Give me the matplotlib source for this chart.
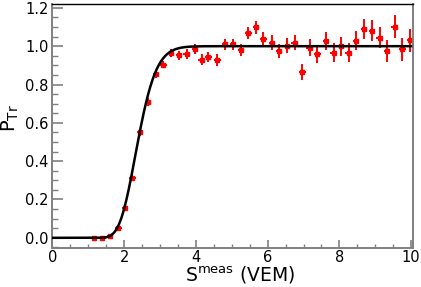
import math
import numpy as np
import matplotlib
matplotlib.use('Agg')
import matplotlib.pyplot as plt
from matplotlib.ticker import MultipleLocator

# measured trigger probability
s_meas = [1.16, 1.39, 1.60, 1.84, 2.02, 2.23, 2.44, 2.67, 2.89, 3.09,
          3.30, 3.53, 3.74, 3.97, 4.16, 4.35, 4.60, 4.81, 5.03, 5.25,
          5.46, 5.68, 5.88, 6.12, 6.32, 6.53, 6.75, 6.97, 7.17, 7.39,
          7.62, 7.84, 8.04, 8.26, 8.46, 8.69, 8.91, 9.12, 9.33, 9.54,
          9.76, 9.98]
p_tr = [0.0, 0.0, 0.008, 0.05, 0.156, 0.314, 0.55, 0.709, 0.854, 0.904,
        0.965, 0.953, 0.958, 0.983, 0.93, 0.944, 0.927, 1.010, 1.009, 0.979,
        1.069, 1.098, 1.037, 1.019, 0.975, 1.002, 1.019, 0.866, 0.993, 0.957,
        1.028, 0.967, 1.0, 0.967, 1.028, 1.089, 1.080, 1.045, 0.975, 1.101,
        0.984, 1.031]
p_err = [0.003, 0.004, 0.006, 0.01, 0.012, 0.015, 0.018, 0.02, 0.02, 0.02,
         0.022, 0.024, 0.025, 0.026, 0.027, 0.028, 0.03, 0.03, 0.03, 0.032,
         0.033, 0.035, 0.036, 0.037, 0.038, 0.04, 0.04, 0.042, 0.044, 0.045,
         0.046, 0.048, 0.05, 0.05, 0.05, 0.052, 0.054, 0.056, 0.058, 0.06,
         0.06, 0.06]
s_halfwidth = 0.09

# fit: log-normal cdf
fit_mu = 2.38
fit_sigma = 0.17

def fit_func(s):
    out = []
    for v in s:
        if v <= 0:
            out.append(0.0)
        else:
            out.append(0.5 * (1 + math.erf(math.log(v / fit_mu) / (math.sqrt(2) * fit_sigma))))
    return np.array(out)

fig = plt.figure(figsize=(4.21, 2.87), dpi=100)
ax = fig.add_axes([0.1247, 0.136, 0.856, 0.85])

xs = np.linspace(0, 10, 500)
ax.plot(xs, fit_func(xs), color='black', lw=1.8, zorder=3)

ax.errorbar(s_meas, p_tr, yerr=p_err, xerr=s_halfwidth, fmt='s', color='red',
            ms=2.6, elinewidth=1.4, capsize=0, zorder=2)

ax.set_xlim(0, 10.05)
ax.set_ylim(-0.053, 1.22)

ax.xaxis.set_major_locator(MultipleLocator(2))
ax.xaxis.set_minor_locator(MultipleLocator(0.5))
ax.yaxis.set_major_locator(MultipleLocator(0.2))
ax.yaxis.set_minor_locator(MultipleLocator(0.05))

grey = '#808080'
for side in ['left', 'bottom', 'right']:
    ax.spines[side].set_color(grey)
    ax.spines[side].set_linewidth(1.4)
ax.spines['top'].set_color('black')
ax.spines['top'].set_linewidth(1.0)

ax.tick_params(axis='y', which='major', direction='in', length=8, width=1.2,
               color=grey, labelsize=10.5, pad=3)
ax.tick_params(axis='y', which='minor', direction='in', length=4, width=1.0, color=grey)
ax.tick_params(axis='x', which='major', direction='in', length=5.5, width=1.2,
               color=grey, labelsize=10.5, pad=1.5)
ax.tick_params(axis='x', which='minor', direction='in', length=3, width=1.0, color=grey)
ax.yaxis.set_major_formatter(matplotlib.ticker.FormatStrFormatter('%.1f'))

ax.set_xlabel(r'S$^{\mathregular{meas}}$ (VEM)', fontsize=13.5, labelpad=0)
ax.xaxis.set_label_coords(0.52, -0.068)
ax.xaxis.label.set_verticalalignment('top')
ax.text(-0.118, 0.59, r'P$_{\mathregular{Tr}}$', transform=ax.transAxes,
        rotation=90, fontsize=14, ha='center', va='top')

fig.savefig('out.png', dpi=100)
